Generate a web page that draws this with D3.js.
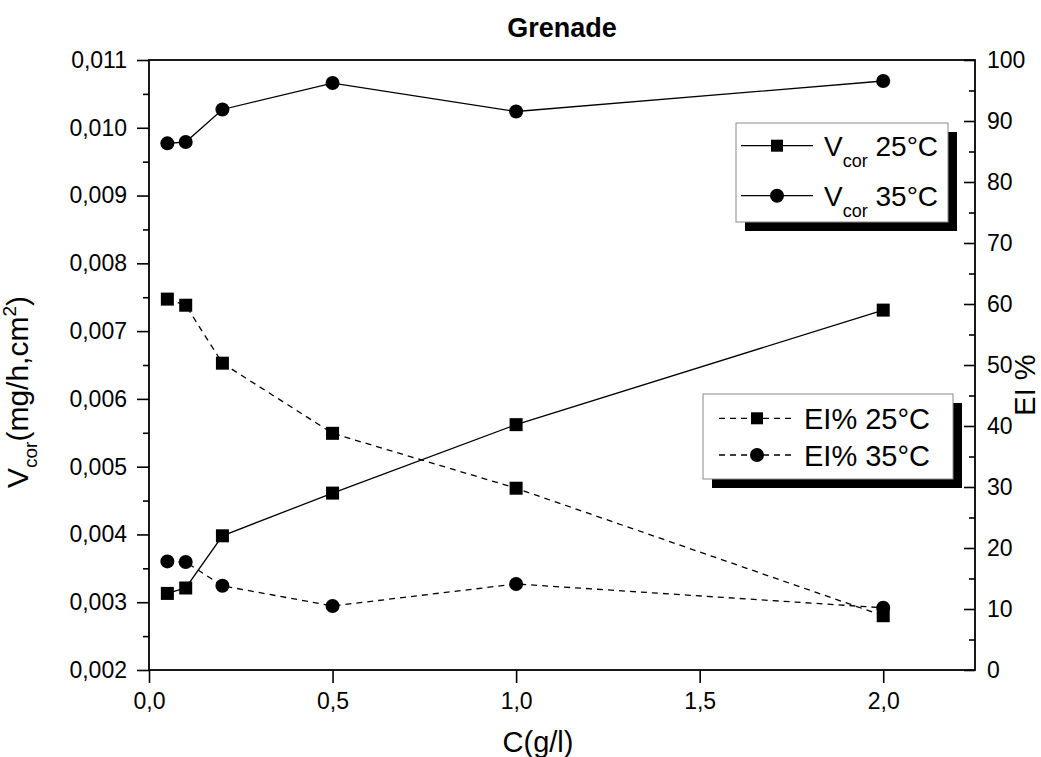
<!DOCTYPE html>
<html><head><meta charset="utf-8">
<script src="https://cdn.jsdelivr.net/npm/d3@7"></script>
<style>
html,body{margin:0;padding:0;background:#fff;}
svg text{font-family:"Liberation Sans",Arial,sans-serif;fill:#000;}
</style></head>
<body>
<svg id="c" width="1041" height="757"></svg>
<script>
// ---- data ----
const conc = [0.05, 0.1, 0.2, 0.5, 1.0, 2.0];
const vcor25 = [0.00313, 0.00321, 0.00398, 0.00461, 0.00562, 0.00731];
const vcor35 = [0.00977, 0.00979, 0.01027, 0.01066, 0.01024, 0.01069];
const ei25 = [60.8, 59.8, 50.3, 38.8, 29.8, 8.9];
const ei35 = [17.8, 17.7, 13.8, 10.5, 14.1, 10.2];
const xTicks = [0, 0.5, 1.0, 1.5, 2.0];
const yLeftTicks = [0.002,0.003,0.004,0.005,0.006,0.007,0.008,0.009,0.010,0.011];
const yRightTicks = [0,10,20,30,40,50,60,70,80,90,100];
const title = "Grenade";

const svg = d3.select("#c");
const L = 149, R = 975, T = 60, B = 670;
const x = d3.scaleLinear().domain([0, 2.25]).range([L, R]);
const yL = d3.scaleLinear().domain([0.002, 0.011]).range([B, T]);
const yR = d3.scaleLinear().domain([0, 100]).range([B, T]);
const fmtL = d => d3.format(".3f")(d).replace(".", ",");
const fmtX = d => d3.format(".1f")(d).replace(".", ",");

// title
svg.append("text").attr("x", (L+R)/2).attr("y", 37).attr("text-anchor","middle")
  .style("font-size","27px").style("font-weight","bold").text(title);

// axes
function styleAxis(g, fs){
  g.select(".domain").remove();
  g.selectAll(".tick line").attr("stroke","#000").attr("stroke-width",1.6);
  g.selectAll(".tick text").style("font-size", fs).attr("fill","#000")
   .style("font-family",'"Liberation Sans",Arial,sans-serif');
}
const gL = svg.append("g").attr("transform",`translate(${L},0)`)
  .call(d3.axisLeft(yL).tickValues(yLeftTicks).tickFormat(fmtL).tickSize(12).tickPadding(10));
styleAxis(gL, "23px");
const minorL = d3.range(0, 9).map(i => yLeftTicks[i] + 0.0005);
const gLm = svg.append("g").attr("transform",`translate(${L},0)`)
  .call(d3.axisLeft(yL).tickValues(minorL).tickFormat("").tickSize(6));
styleAxis(gLm, "1px");

const gR = svg.append("g").attr("transform",`translate(${R},0)`)
  .call(d3.axisRight(yR).tickValues(yRightTicks).tickSize(-11).tickPadding(12));
styleAxis(gR, "23px");
const minorR = d3.range(0, 10).map(i => yRightTicks[i] + 5);
const gRm = svg.append("g").attr("transform",`translate(${R},0)`)
  .call(d3.axisRight(yR).tickValues(minorR).tickFormat("").tickSize(-6));
styleAxis(gRm, "1px");

const gB = svg.append("g").attr("transform",`translate(0,${B})`)
  .call(d3.axisBottom(x).tickValues(xTicks).tickFormat(fmtX).tickSize(13).tickPadding(10));
styleAxis(gB, "23px");

// frame
svg.append("rect").attr("x",L).attr("y",T).attr("width",R-L).attr("height",B-T)
  .attr("fill","none").attr("stroke","#000").attr("stroke-width",1.8);

// axis titles
const lt = svg.append("text").attr("transform","translate(28,392) rotate(-90)")
  .attr("text-anchor","middle").style("font-size","30px");
lt.append("tspan").text("V");
lt.append("tspan").attr("dy",9).style("font-size","19px").text("cor");
lt.append("tspan").attr("dy",-9).text("(mg/h,cm");
lt.append("tspan").attr("dy",-12).style("font-size","19px").text("2");
lt.append("tspan").attr("dy",12).text(")");

svg.append("text").attr("transform","translate(1035,385) rotate(-90)")
  .attr("text-anchor","middle").style("font-size","29px").text("EI %");

svg.append("text").attr("x",538).attr("y",752).attr("text-anchor","middle")
  .style("font-size","29px").text("C(g/l)");

// series
const plot = svg.append("g");
function series(vals, yS, dashed, marker){
  const pts = conc.map((c,i)=>[x(c), yS(vals[i])]);
  plot.append("path").attr("d", d3.line()(pts)).attr("fill","none")
    .attr("stroke","#000").attr("stroke-width",1.3)
    .attr("stroke-dasharray", dashed ? "6,5" : null);
  pts.forEach(p=>{
    if(marker==="sq") plot.append("rect").attr("x",p[0]-6.5).attr("y",p[1]-6.5)
      .attr("width",13).attr("height",13).attr("fill","#000");
    else plot.append("circle").attr("cx",p[0]).attr("cy",p[1]).attr("r",7).attr("fill","#000");
  });
}
series(vcor25, yL, false, "sq");
series(vcor35, yL, false, "ci");
series(ei25, yR, true, "sq");
series(ei35, yR, true, "ci");

// legends
function legend(bx, by, bw, bh, rows, dashed, lx1, lx2, mx){
  const g = svg.append("g");
  g.append("rect").attr("x",bx+9).attr("y",by+9).attr("width",bw).attr("height",bh).attr("fill","#000");
  g.append("rect").attr("x",bx).attr("y",by).attr("width",bw).attr("height",bh)
    .attr("fill","#fff").attr("stroke","#8a8a8a").attr("stroke-width",1);
  rows.forEach(r=>{
    g.append("line").attr("x1",lx1).attr("x2",lx2).attr("y1",r.cy).attr("y2",r.cy)
      .attr("stroke","#000").attr("stroke-width",1.3).attr("stroke-dasharray", dashed ? "6,5" : null);
    if(r.m==="sq") g.append("rect").attr("x",mx-6).attr("y",r.cy-6).attr("width",12).attr("height",12).attr("fill","#000");
    else g.append("circle").attr("cx",mx).attr("cy",r.cy).attr("r",7).attr("fill","#000");
    r.text(g, r);
  });
}
function vcorText(label){
  return (g, r) => {
    const t = g.append("text").attr("x",824).attr("y",r.cy+10.5).style("font-size","28px");
    t.append("tspan").text("V");
    t.append("tspan").attr("dy",11).style("font-size","18px").text("cor");
    t.append("tspan").attr("dy",-11).text(" " + label);
  };
}
function eiText(label){
  return (g, r) => {
    g.append("text").attr("x",804).attr("y",r.cy+10.5).style("font-size","29px").text(label);
  };
}
legend(736, 123, 212, 99, [
  {cy:145.7, m:"sq", text:vcorText("25°C")},
  {cy:195.7, m:"ci", text:vcorText("35°C")}
], false, 741, 813, 777);
legend(703, 394, 250, 85, [
  {cy:418.3, m:"sq", text:eiText("EI% 25°C")},
  {cy:455, m:"ci", text:eiText("EI% 35°C")}
], true, 719, 795, 757);
</script>
</body></html>
